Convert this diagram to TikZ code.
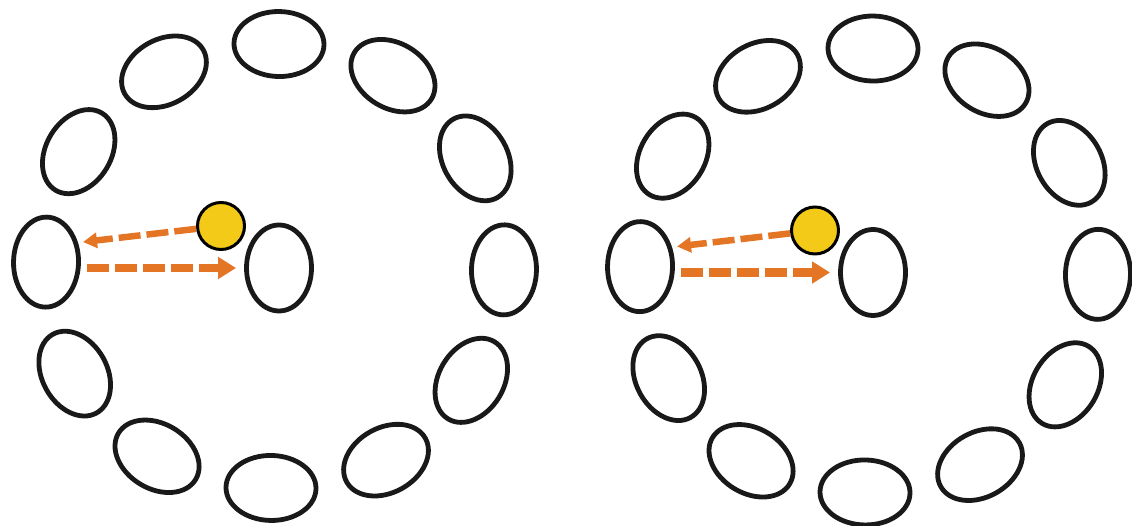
\documentclass[tikz,border=0pt]{standalone}
\usepackage{xcolor}
\definecolor{myy}{RGB}{244, 202, 24}
\definecolor{myo}{RGB}{228, 117, 37}
\usetikzlibrary{arrows.meta, shapes.geometric}

\begin{document}
\begin{tikzpicture}[x=1pt, y=1pt,
        ring/.style={ellipse, draw=black!90, line width=4.8pt, minimum width=90pt, minimum height=65pt, inner sep=0pt},
        flow/.style={draw=myo, line width=8.5pt, dash pattern=on 22pt off 6pt, -{Triangle[length=18pt, width=21pt]}}]
        \useasboundingbox (0, 0) rectangle (1132, 526);
        \foreach \p/\cx/\cy in {a/275/260, b/869/255.5} {
            \begin{scope}[shift={(\cx, \cy)}]
                \foreach \a [count=\i from 0] in {0, 30, ..., 330}
                    \node[ring, rotate=\a+89] (\p\i) at (\a-1:229 and 222) {};
                \node[ring, rotate=90, minimum width=86pt] (\p-in) at (4, -2) {};
                \node[circle, draw, line width=3pt, fill=myy, minimum size=47pt, inner sep=0pt] (\p-ball) at (-54, 40) {};
                \coordinate (\p-tip) at (-192, 24);
                \coordinate (\p-out) at (-188, -2);
                \draw[flow, line width=6.5pt, -{Triangle[length=14pt, width=15pt]}] (\p-ball) -- (\p-tip);
                \draw[flow, shorten >=8pt] (\p-out) -- (\p-in);
            \end{scope}
        }
    \end{tikzpicture}
\end{document}
